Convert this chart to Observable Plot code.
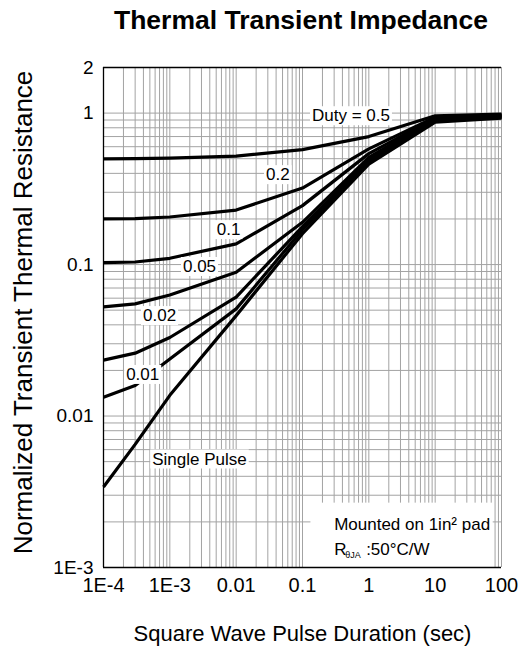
<!DOCTYPE html>
<html><head><meta charset="utf-8">
<script src="https://cdn.jsdelivr.net/npm/d3@7"></script>
<script src="https://cdn.jsdelivr.net/npm/@observablehq/plot@0.6"></script>
<style>
body{margin:0;background:#fff;font-family:"Liberation Sans",Arial,sans-serif;}
#title{width:525px;box-sizing:border-box;padding-left:77px;height:40px;line-height:40px;text-align:center;font-weight:bold;font-size:26.5px;color:#000;white-space:nowrap;}
</style></head><body>
<div id="title">Thermal Transient Impedance</div>
<div id="chart"></div>
<script>
// ---- data ----
const pulse = [1e-4, 3e-4, 1e-3, 0.01, 0.1, 1, 10, 100];
const duty05  = [0.498, 0.500, 0.505, 0.520, 0.574, 0.70, 0.96, 0.985];
const duty02  = [0.200, 0.201, 0.206, 0.229, 0.320, 0.58, 0.94, 0.975];
const duty01  = [0.103, 0.104, 0.110, 0.137, 0.245, 0.54, 0.93, 0.965];
const duty005 = [0.0525, 0.055, 0.063, 0.089, 0.190, 0.51, 0.92, 0.955];
const duty002 = [0.0234, 0.026, 0.033, 0.061, 0.178, 0.49, 0.90, 0.945];
const duty001 = [0.0133, 0.0159, 0.0238, 0.051, 0.170, 0.475, 0.89, 0.935];
const single  = [0.0034, 0.0065, 0.0137, 0.046, 0.160, 0.46, 0.87, 0.925];
const seriesNames = ["0.5", "0.2", "0.1", "0.05", "0.02", "0.01", "Single Pulse"];
const seriesValues = [duty05, duty02, duty01, duty005, duty002, duty001, single];

const labelTexts = ["Duty = 0.5", "0.2", "0.1", "0.05", "0.02", "0.01", "Single Pulse"];
const labelX = [0.538, 0.0425, 0.0077, 0.0028, 7.0e-4, 3.9e-4, 0.0028];
const labelY = [0.96, 0.392, 0.17, 0.097, 0.046, 0.0188, 0.0052];

const xTicks = [1e-4, 1e-3, 0.01, 0.1, 1, 10, 100];
const xTickLabels = ["1E-4", "1E-3", "0.01", "0.1", "1", "10", "100"];
const yTicks = [1e-3, 0.01, 0.1, 1, 2];
const yTickLabels = ["1E-3", "0.01", "0.1", "1", "2"];

const xTitle = "Square Wave Pulse Duration (sec)";
const yTitle = "Normalized Transient Thermal Resistance";
const noteLine1 = "Mounted on 1in\u00b2 pad";
const noteR = "R", noteSub = "\u03b8JA", noteRest = ":50\u00b0C/W";
const noteX = 0.3, noteY1 = 0.00193, noteY2 = 0.00132;
const noteBox = {x1: 0.134, x2: 75, y1: 0.001, y2: 0.00266};

// ---- build ----
const rows = seriesNames.flatMap((s, k) => pulse.map((x, i) => ({x, y: seriesValues[k][i], s})));
const labels = labelTexts.map((t, i) => ({t, x: labelX[i], y: labelY[i]}));
const xFmt = new Map(xTicks.map((d, i) => [d, xTickLabels[i]]));
const yFmt = new Map(yTicks.map((d, i) => [d, yTickLabels[i]]));
const gridX = [];
for (let e = -4; e <= 1; e++) for (let m = 1; m <= 9; m++) gridX.push(m * Math.pow(10, e));
gridX.push(100);
const gridY = [];
for (let e = -3; e <= -1; e++) for (let m = 1; m <= 9; m++) gridY.push(m * Math.pow(10, e));
gridY.push(1);

const gridColor = "#a3a3a3";
const LABEL_FILL = "#010101";
const chart = Plot.plot({
  width: 525, height: 625,
  marginTop: 27, marginBottom: 98, marginLeft: 103, marginRight: 24,
  style: {fontFamily: "'Liberation Sans', Arial, sans-serif", color: "#000", background: "#fff", overflow: "visible"},
  x: {type: "log", domain: [1e-4, 100]},
  y: {type: "log", domain: [1e-3, 2]},
  marks: [
    Plot.ruleX(gridX, {stroke: gridColor, strokeWidth: 1}),
    Plot.ruleY(gridY, {stroke: gridColor, strokeWidth: 1}),
    Plot.rect([noteBox], {x1: "x1", x2: "x2", y1: "y1", y2: "y2", fill: "white"}),
    Plot.ruleY([2, 1e-3], {stroke: "#000", strokeWidth: 1.3}),
    Plot.ruleX([1e-4], {stroke: "#000", strokeWidth: 1.3}),
    Plot.axisX(xTicks, {tickFormat: d => xFmt.get(d), tickSize: 0, tickPadding: 10, fontSize: 20, label: null}),
    Plot.axisY(yTicks, {tickFormat: d => yFmt.get(d), tickSize: 0, tickPadding: 10, fontSize: 19, label: null}),
    Plot.line(rows, {x: "x", y: "y", z: "s", stroke: "#000", strokeWidth: 3.2, strokeLinejoin: "round", strokeLinecap: "butt"}),
    Plot.text(labels, {x: "x", y: "y", text: "t", fontSize: 17, fill: LABEL_FILL}),
    Plot.text([noteLine1], {x: () => noteX, y: () => noteY1, text: d => d, textAnchor: "start", fontSize: 17}),
    Plot.text([noteR], {x: () => noteX, y: () => noteY2, text: d => d, textAnchor: "start", fontSize: 17}),
    Plot.text([noteSub], {x: () => noteX, y: () => noteY2, text: d => d, textAnchor: "start", fontSize: 9, dx: 11, dy: 6}),
    Plot.text([noteRest], {x: () => noteX, y: () => noteY2, text: d => d, textAnchor: "start", fontSize: 17, dx: 32}),
    Plot.text([xTitle], {frameAnchor: "bottom", text: d => d, fontSize: 22, dy: 73}),
    Plot.text([yTitle], {frameAnchor: "left", textAnchor: "middle", text: d => d, fontSize: 26, rotate: -90, dx: -80, dy: -5})
  ]
});
document.getElementById("chart").appendChild(chart);

// white boxes behind the curve labels
const NS = "http://www.w3.org/2000/svg";
chart.querySelectorAll("g").forEach(g => {
  if (g.getAttribute("fill") !== LABEL_FILL) return;
  g.querySelectorAll("text").forEach(t => {
    const b = t.getBBox();
    const r = document.createElementNS(NS, "rect");
    r.setAttribute("x", b.x - 2); r.setAttribute("y", b.y);
    r.setAttribute("width", b.width + 4); r.setAttribute("height", b.height);
    r.setAttribute("fill", "white");
    r.setAttribute("stroke", "none");
    if (t.getAttribute("transform")) r.setAttribute("transform", t.getAttribute("transform"));
    t.parentNode.insertBefore(r, t);
  });
});
</script>
</body></html>
